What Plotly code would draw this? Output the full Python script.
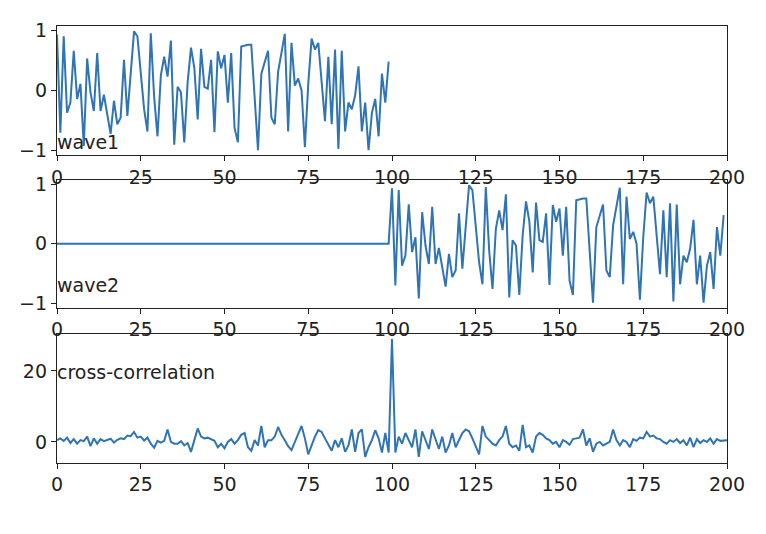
import plotly.graph_objects as go

# wave1: 100 samples
wave1 = [0.93, -0.70, 0.90, -0.37, -0.20, 0.66, -0.14, 0.11, -0.92, 0.53,
         -0.03, -0.34, 0.62, -0.34, -0.07, -0.37, -0.72, -0.17, -0.56, -0.45,
         0.51, -0.42, 0.28, 0.98, 0.90, 0.31, -0.31, -0.68, 0.95, -0.11,
         -0.76, 0.25, 0.56, 0.23, 0.83, -0.90, 0.06, -0.03, -0.86, 0.14,
         0.71, 0.37, -0.48, 0.69, 0.06, 0.03, 0.51, -0.69, 0.65, 0.37,
         0.59, -0.20, 0.62, -0.62, -0.86, 0.73, 0.75, 0.76, 0.76, -0.20,
         -0.99, 0.28, 0.45, 0.66, -0.45, -0.56, 0.31, 0.62, 0.94, -0.68,
         0.79, 0.08, 0.20, 0.00, -0.94, 0.11, 0.86, 0.68, 0.79, 0.14,
         -0.51, 0.56, -0.56, 0.68, -0.97, 0.66, -0.68, -0.20, -0.31, -0.08,
         0.40, -0.68, -0.20, -0.99, -0.37, -0.14, -0.76, 0.28, -0.20, 0.48]

# wave2: 100 zeros followed by wave1
wave2_zeros = [0.0] * 100
wave2 = wave2_zeros + wave1

# cross-correlation (lags 0..200)
xcorr = [
    0.5, 1.0, 0.3, 1.2, -0.3, 0.8, -0.5, 0.5, 0.2, 1.5,
    -1.2, 1.0, -0.5, 0.8, 0.2, 0.5, 0.9, -0.2, 0.6, 1.0,
    0.8, 1.8, 1.6, 2.8, 1.2, 1.5, 0.4, 1.2, -0.5, -1.6,
    0.3, -0.2, 0.3, 3.5, 0.0, -0.5, -0.5, 0.2, -1.0, -0.3,
    -2.8, 0.5, 3.8, 1.5, 1.0, 1.2, 0.8, 0.3, -1.5, -0.5,
    -1.8, 0.0, 0.8, -0.5, 0.5, 2.0, 2.5, -1.5, -2.5, 0.5,
    -1.0, 4.5, -1.5, 0.5, 0.5, 1.5, 4.2, 2.0, 0.5, -1.2,
    -2.3, 0.0, 2.0, 4.5, 1.0, -3.5, -1.0, 1.5, 3.3, 2.8,
    1.0, -0.8, -2.5, 0.5, -1.5, 1.0, -2.8, -1.0, 3.5, -2.8,
    2.5, 3.5, -4.2, -1.5, 0.5, 3.3, 1.0, -3.0, 2.5, -3.0,
    29.0,
    -3.0, 1.5, -0.5, 2.5, 0.5, -1.5, 3.5, -4.2, 3.0, 0.5,
    -2.0, 3.5, 0.5, -2.0, 1.5, -3.0, -1.0, 2.5, -1.5, 0.5,
    2.5, 3.5, 3.0, 1.0, -1.5, -3.5, 4.5, 1.5, 0.5, -0.5,
    -1.0, 0.5, 1.5, 4.5, -0.5, -1.5, -1.0, -2.5, 4.8, -1.5,
    -1.0, -3.0, 1.5, 2.5, 2.0, 1.0, 0.5, -0.5, 0.0, -1.5,
    0.5, 0.0, -0.8, 0.8, 1.0, 1.2, 3.5, -1.0, 1.0, -2.8,
    -0.5, 0.0, -1.0, -0.5, 0.0, 3.5, 0.5, -1.0, 0.5, 0.0,
    -1.5, 0.8, 0.3, 1.2, 1.0, 2.8, 1.5, 1.8, 1.0, 0.8,
    0.0, -0.5, 0.5, 0.0, 0.8, -0.3, 0.5, -1.0, 1.2, -1.5,
    0.8, -0.3, 0.5, 0.0, 1.0, -0.5, 0.8, 0.3, 0.5, 0.5,
]

x_ticks = [0, 25, 50, 75, 100, 125, 150, 175, 200]
labels = ["wave1", "wave2", "cross-correlation"]
label_y = [-0.86, -0.69, 19.7]

color = "#2f74b5"
W, H = 766, 534
FONT = "DejaVu Sans"
FS = 19

fig = go.Figure()
fig.add_trace(go.Scatter(x=list(range(len(wave1))), y=wave1, mode="lines",
                         line=dict(color=color, width=2), xaxis="x", yaxis="y",
                         showlegend=False))
fig.add_trace(go.Scatter(x=list(range(len(wave2))), y=wave2, mode="lines",
                         line=dict(color=color, width=2), xaxis="x2", yaxis="y2",
                         showlegend=False))
fig.add_trace(go.Scatter(x=list(range(len(xcorr))), y=xcorr, mode="lines",
                         line=dict(color=color, width=2), xaxis="x3", yaxis="y3",
                         showlegend=False))

xd = [57 / W, 727 / W]
doms = [(26, 155), (180, 307.5), (334, 462.5)]
ydoms = [[1 - b / H, 1 - t / H] for t, b in doms]
yranges = [[-1.07, 1.07], [-1.07, 1.07], [-5.8, 30.4]]
yticks = [[-1, 0, 1], [-1, 0, 1], [0, 20]]

axcommon = dict(showgrid=False, zeroline=False, showline=True, mirror=True,
                linecolor="#222", linewidth=1.3, ticks="outside", ticklen=5,
                tickwidth=1.3, tickcolor="#222", automargin=False,
                tickfont=dict(family=FONT, size=FS, color="#222"))

layout = dict(width=W, height=H, margin=dict(l=0, r=0, t=0, b=0),
              paper_bgcolor="white", plot_bgcolor="white",
              font=dict(family=FONT, size=FS, color="#222"))
for k in range(3):
    sx = "" if k == 0 else str(k + 1)
    layout["xaxis" + sx] = dict(domain=xd, range=[0, 200], tickvals=x_ticks,
                                anchor="y" + sx, **axcommon)
    layout["yaxis" + sx] = dict(domain=ydoms[k], range=yranges[k],
                                tickvals=yticks[k], anchor="x" + sx, **axcommon)
fig.update_layout(**layout)

for k in range(3):
    sx = "" if k == 0 else str(k + 1)
    fig.add_annotation(x=0, y=label_y[k], xref="x" + sx, yref="y" + sx,
                       text=labels[k], showarrow=False, xanchor="left",
                       yanchor="middle", xshift=-2,
                       font=dict(family=FONT, size=FS, color="#222"))

fig.write_html("out.html")
